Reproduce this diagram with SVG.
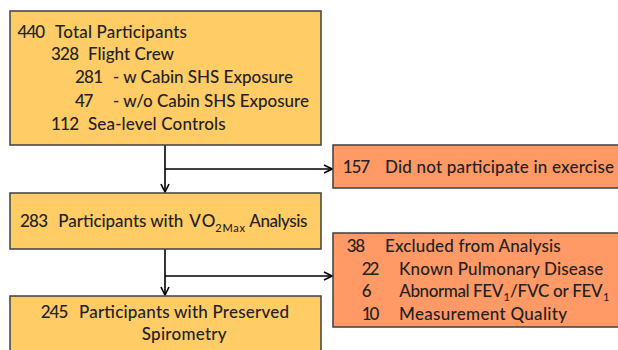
<svg xmlns="http://www.w3.org/2000/svg" width="618" height="350" viewBox="0 0 618 350">
<defs>
<style>
.box{stroke:#3f3f3f;stroke-width:1.5}
.y{fill:#FFCC66}
.o{fill:#FF9966}
text{font-family:Lato,"Liberation Sans",sans-serif;font-size:17px;font-weight:500;fill:#222}
.sub{font-size:11px}
.c{stroke:#000;stroke-width:1.6;fill:none}
</style>
<marker id="ah" viewBox="0 0 10 10" refX="9" refY="5" markerWidth="10" markerHeight="10" markerUnits="userSpaceOnUse" orient="auto">
<path d="M1,1 L9,5 L1,9" fill="none" stroke="#000" stroke-width="1.6"/>
</marker>
</defs>
<rect width="618" height="350" fill="#fff"/>
<g id="connectors">
<line class="c" x1="165" y1="145" x2="165" y2="192" marker-end="url(#ah)"/>
<line class="c" x1="165" y1="169" x2="332" y2="169" marker-end="url(#ah)"/>
<line class="c" x1="165" y1="249" x2="165" y2="295" marker-end="url(#ah)"/>
<line class="c" x1="165" y1="276" x2="332" y2="276" marker-end="url(#ah)"/>
</g>
<g id="n1">
<rect class="box y" x="10" y="11" width="311" height="134"/>
<text x="17.5" y="38" textLength="27.7">440</text>
<text x="55" y="38" textLength="132">Total Participants</text>
<text x="51" y="60" textLength="28">328</text>
<text x="88" y="60" textLength="86">Flight Crew</text>
<text x="75" y="83" textLength="28">281</text>
<text x="113" y="83" textLength="180">- w Cabin SHS Exposure</text>
<text x="75" y="107" textLength="18.3">47</text>
<text x="113" y="107" textLength="196">- w/o Cabin SHS Exposure</text>
<text x="51" y="130" textLength="28">112</text>
<text x="88" y="130" textLength="137.7">Sea-level Controls</text>
</g>
<g id="n2">
<rect class="box o" x="333" y="145" width="295" height="43"/>
<text x="342.7" y="173" textLength="27.3">157</text>
<text x="385" y="173" textLength="229">Did not participate in exercise</text>
</g>
<g id="n3">
<rect class="box y" x="10" y="193" width="311" height="56"/>
<text x="20" y="227" textLength="28">283</text>
<text x="58.3" y="227" textLength="125">Participants with</text>
<text x="189.3" y="227" textLength="26">VO</text>
<text class="sub" x="215.3" y="231.5" textLength="29.7">2Max</text>
<text x="249.3" y="227" textLength="58">Analysis</text>
</g>
<g id="n4">
<rect class="box o" x="333" y="233" width="295" height="94"/>
<text x="346.7" y="252" textLength="18.3">38</text>
<text x="385" y="252" textLength="175.7">Excluded from Analysis</text>
<text x="361.7" y="274.5" textLength="17.7">22</text>
<text x="399" y="274.5" textLength="204.3">Known Pulmonary Disease</text>
<text x="361.7" y="297">6</text>
<text x="399.3" y="297" textLength="104">Abnormal FEV</text>
<text class="sub" x="503.5" y="301">1</text>
<text x="510" y="297" textLength="92.7">/FVC or FEV</text>
<text class="sub" x="603" y="301">1</text>
<text x="361.7" y="320" textLength="17.7">10</text>
<text x="399" y="320" textLength="168">Measurement Quality</text>
</g>
<g id="n5">
<rect class="box y" x="10" y="296" width="311" height="70"/>
<text x="40.7" y="318" textLength="27.7">245</text>
<text x="79" y="318" textLength="210">Participants with Preserved</text>
<text x="141.7" y="340" textLength="85">Spirometry</text>
</g>
</svg>
